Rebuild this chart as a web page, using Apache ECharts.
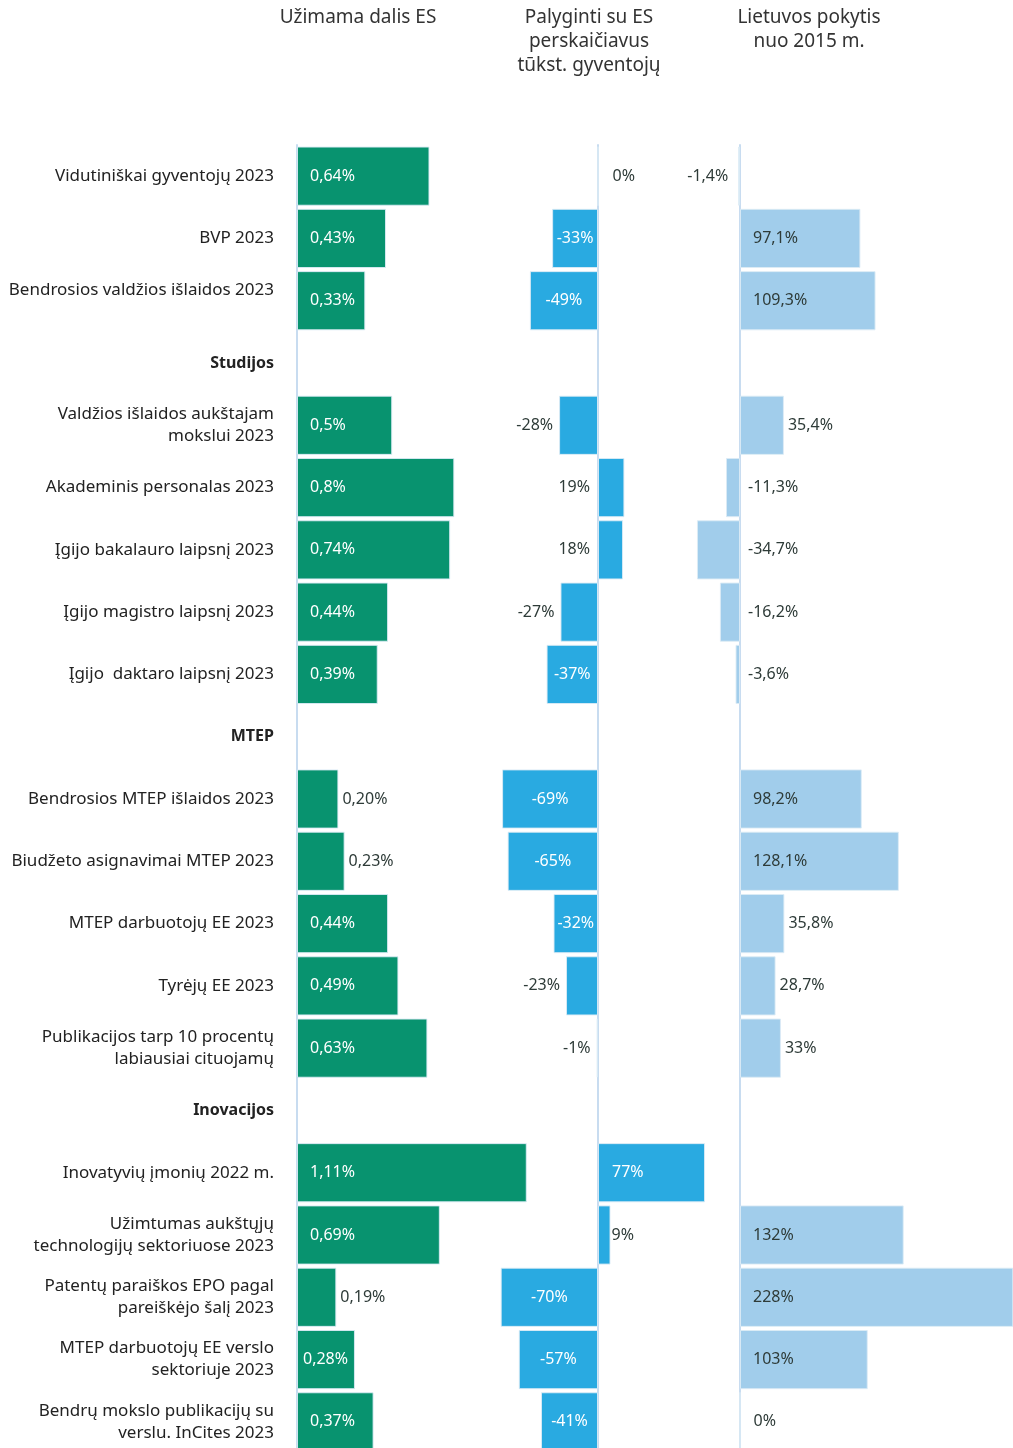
<!DOCTYPE html>
<html>
<head>
<meta charset="utf-8">
<script src="https://cdn.jsdelivr.net/npm/echarts@6/dist/echarts.min.js"></script>
<style>
  html, body { margin: 0; padding: 0; background: #fff; overflow: hidden; }
  #chart { width: 1013px; height: 1453px; }
</style>
</head>
<body>
<div id="chart"></div>
<script>
  // eilutės (skyrių antraštės be reikšmių)
  const categories = [
    'Vidutiniškai gyventojų 2023',
    'BVP 2023',
    'Bendrosios valdžios išlaidos 2023\n ',
    'Studijos',
    'Valdžios išlaidos aukštajam\nmokslui 2023',
    'Akademinis personalas 2023',
    'Įgijo bakalauro laipsnį 2023',
    'Įgijo magistro laipsnį 2023',
    'Įgijo  daktaro laipsnį 2023',
    'MTEP',
    'Bendrosios MTEP išlaidos 2023',
    'Biudžeto asignavimai MTEP 2023',
    'MTEP darbuotojų EE 2023',
    'Tyrėjų EE 2023',
    'Publikacijos tarp 10 procentų\nlabiausiai cituojamų',
    'Inovacijos',
    'Inovatyvių įmonių 2022 m.',
    'Užimtumas aukštųjų\ntechnologijų sektoriuose 2023',
    'Patentų paraiškos EPO pagal\npareiškėjo šalį 2023',
    'MTEP darbuotojų EE verslo\nsektoriuje 2023',
    'Bendrų mokslo publikacijų su\nverslu. InCites 2023'
  ]
  const headers = ['Studijos', 'MTEP', 'Inovacijos']

  // užimama dalis ES (bar ilgiai nuskaityti nuo paveikslo) ir rodomi užrašai
  const shareEU = [0.64, 0.43, 0.33, null, 0.46, 0.76, 0.74, 0.44, 0.39, null,
    0.20, 0.23, 0.44, 0.49, 0.63, null, 1.11, 0.69, 0.19, 0.28, 0.37]
  const shareText = ['0,64%', '0,43%', '0,33%', '', '0,5%', '0,8%', '0,74%', '0,44%', '0,39%', '',
    '0,20%', '0,23%', '0,44%', '0,49%', '0,63%', '', '1,11%', '0,69%', '0,19%', '0,28%', '0,37%']
  const vsEU = [0, -33, -49, null, -28, 19, 18, -27, -37, null,
    -69, -65, -32, -23, -1, null, 77, 9, -70, -57, -41]
  const change2015 = [-1.4, 97.1, 109.3, null, 35.4, -11.3, -34.7, -16.2, -3.6, null,
    98.2, 128.1, 35.8, 28.7, 33, null, null, 132, 228, 103, 0]

  const DARK = '#2e3b38'
  const FONT = '"Noto Sans", sans-serif'

  function pct(v) {
    return String(v).replace('.', ',') + '%'
  }

  function lbl(position, distance, color) {
    return { show: true, position: position, distance: distance, color: color }
  }

  const shareData = shareEU.map(v => {
    if (v === null) return { value: null }
    const label = v >= 0.25
      ? lbl('insideLeft', v < 0.3 ? 6 : 13, '#fff')
      : lbl('right', 4, DARK)
    return { value: v, label: label }
  })

  const vsData = vsEU.map(v => {
    if (v === null) return { value: null }
    let label
    if (v === 0) label = lbl('right', 14, DARK)
    else if (v <= -30) label = lbl('inside', 0, '#fff')
    else if (v < 0) label = lbl('left', 6, DARK)
    else if (v >= 50) label = lbl('insideLeft', 14, '#fff')
    else if (v >= 15) label = lbl('left', 8, DARK)
    else label = lbl('right', 1, DARK)
    return { value: v, label: label }
  })

  const changeData = change2015.map(v => {
    if (v === null) return { value: null }
    let label
    if (v === 0) label = lbl('right', 13, DARK)
    else if (v >= 90) label = lbl('insideLeft', 13, DARK)
    else if (v > 0) label = lbl('right', 4, DARK)
    else if (v < -1.5) label = lbl('right', 8, DARK)
    else label = lbl('left', 10, DARK)
    return { value: v, label: label }
  })

  const gridTop = 145
  const gridHeight = 1308
  const axisLineStyle = { color: '#c8dcf0', width: 2 }

  function catAxis(idx, showLabels) {
    return {
      type: 'category',
      gridIndex: idx,
      inverse: true,
      data: categories,
      axisTick: { show: false },
      axisLine: { show: true, onZero: true, lineStyle: axisLineStyle },
      axisLabel: {
        show: showLabels,
        margin: 23,
        fontFamily: FONT,
        fontSize: 17,
        lineHeight: 22,
        color: '#222',
        formatter: function (val) {
          return headers.indexOf(val) >= 0 ? '{b|' + val + '}' : val
        },
        rich: {
          b: { fontFamily: FONT, fontSize: 16, fontWeight: 'bold', color: '#222' }
        }
      }
    }
  }

  function barSeries(idx, data, color, fmt) {
    return {
      type: 'bar',
      xAxisIndex: idx,
      yAxisIndex: idx,
      data: data,
      barCategoryGap: '5%',
      itemStyle: { color: color, borderColor: 'rgba(220,235,245,0.9)', borderWidth: 1 },
      label: {
        fontFamily: FONT,
        fontSize: 16,
        formatter: fmt
      },
      animation: false
    }
  }

  const titleStyle = {
    fontFamily: FONT,
    fontSize: 19,
    lineHeight: 24,
    fill: '#333',
    textAlign: 'center',
    textVerticalAlign: 'top'
  }

  const chart = echarts.init(document.getElementById('chart'), null, { renderer: 'canvas' })
  chart.setOption({
    backgroundColor: '#fff',
    animation: false,
    graphic: [
      { type: 'text', x: 358, y: 6, style: Object.assign({ text: 'Užimama dalis ES' }, titleStyle) },
      { type: 'text', x: 589, y: 6, style: Object.assign({ text: 'Palyginti su ES\nperskaičiavus\ntūkst. gyventojų' }, titleStyle) },
      { type: 'text', x: 809, y: 6, style: Object.assign({ text: 'Lietuvos pokytis\nnuo 2015 m.' }, titleStyle) }
    ],
    grid: [
      { left: 297, top: gridTop, width: 248.4, height: gridHeight },
      { left: 486.8, top: gridTop, width: 222.4, height: gridHeight },
      { left: 690.4, top: gridTop, width: 322.4, height: gridHeight }
    ],
    xAxis: [
      { type: 'value', gridIndex: 0, min: 0, max: 1.2, show: false },
      { type: 'value', gridIndex: 1, min: -80, max: 80, show: false },
      { type: 'value', gridIndex: 2, min: -40, max: 220, show: false }
    ],
    yAxis: [catAxis(0, true), catAxis(1, false), catAxis(2, false)],
    series: [
      barSeries(0, shareData, '#08936f', p => shareText[p.dataIndex]),
      barSeries(1, vsData, '#29aae1', p => pct(p.value)),
      barSeries(2, changeData, '#a1cdeb', p => pct(p.value))
    ]
  })
</script>
</body>
</html>
